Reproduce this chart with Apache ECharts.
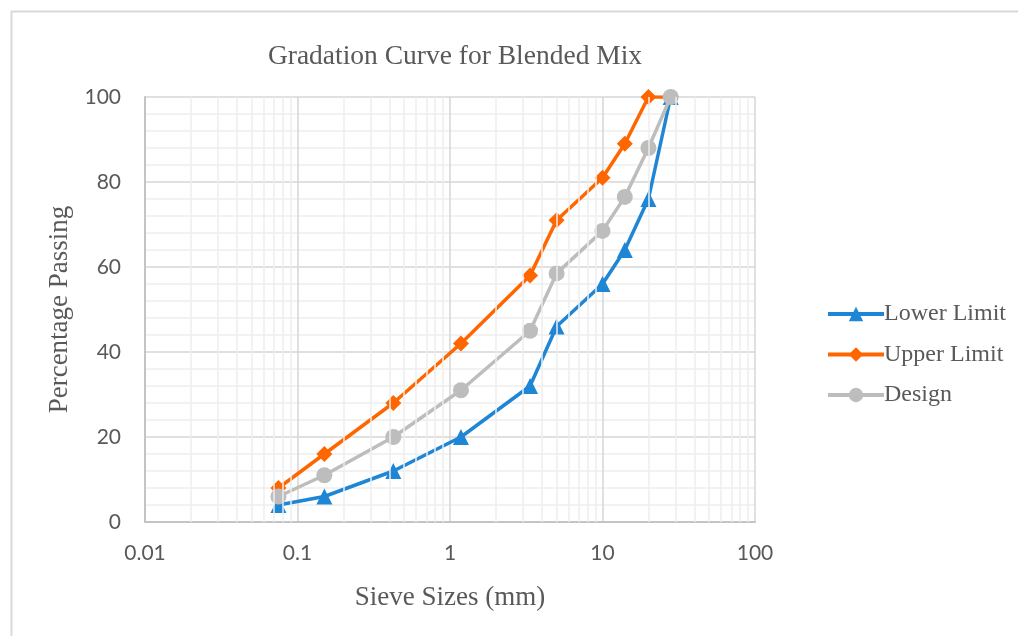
<!DOCTYPE html>
<html lang="en">
<head>
    <meta charset="UTF-8">
    <script src="https://cdn.jsdelivr.net/npm/echarts@6/dist/echarts.min.js"></script>
    <title>Gradation Curve</title>
    <style>body{margin:0;background:#fff;}</style>
</head>
<body>
    <div id="main" style="width: 1018px; height: 636px;"></div>
    <script>
        // sieve sizes (mm) and % passing
        var sieves = [0.075, 0.15, 0.425, 1.18, 3.35, 5, 10, 14, 20, 28];
        var lowerLimit = [4, 6, 12, 20, 32, 46, 56, 64, 76, 100];
        var upperLimit = [8, 16, 28, 42, 58, 71, 81, 89, 100, 100];
        var design = [6, 11, 20, 31, 45, 58.5, 68.5, 76.5, 88, 100];
        var yTicks = [0, 20, 40, 60, 80, 100];

        // minor vertical grid lines 2..9 per decade
        var minorX = [];
        [0.01, 0.1, 1, 10].forEach(function (d) {
            for (var k = 2; k <= 9; k++) minorX.push(+(d * k).toPrecision(3));
        });

        function pairs(vals) {
            return sieves.map(function (s, i) { return [s, vals[i]]; });
        }

        var serif = '"Liberation Serif", "DejaVu Serif", serif';
        var sans = 'Lato, "Open Sans", sans-serif';
        var txt = '#595959';

        var myChart = echarts.init(document.getElementById('main'));
        var option = {
            backgroundColor: '#fff',
            animation: false,
            graphic: [{
                type: 'rect',
                left: 9, top: 9,
                shape: { width: 1100, height: 700 },
                style: { fill: 'none', stroke: '#d9d9d9', lineWidth: 2 },
                silent: true
            }],
            title: {
                text: 'Gradation Curve for Blended Mix',
                left: 450, top: 38,
                textAlign: 'center',
                textStyle: { fontFamily: serif, fontSize: 27.5, fontWeight: 'normal', color: txt }
            },
            legend: {
                orient: 'vertical',
                left: 821, top: 297,
                itemWidth: 56, itemHeight: 18,
                itemGap: 16.5,
                lineStyle: { width: 4 },
                textStyle: { fontFamily: serif, fontSize: 24, color: txt, padding: [0, 0, 0, -5] },
                data: ['Lower Limit', 'Upper Limit', 'Design']
            },
            grid: { left: 145, right: 263, top: 97, bottom: 114 },
            xAxis: {
                type: 'log',
                logBase: 10,
                min: 0.01, max: 100,
                name: 'Sieve Sizes (mm)',
                nameLocation: 'middle',
                nameGap: 62,
                nameTextStyle: { fontFamily: serif, fontSize: 27, color: txt },
                axisLine: { lineStyle: { color: '#c4c4c4', width: 2 } },
                axisTick: { show: false },
                axisLabel: {
                    margin: 21, fontFamily: sans, fontSize: 21, color: txt,
                    formatter: function (v) { return String(+v.toPrecision(3)); }
                },
                splitLine: { show: true, lineStyle: { color: '#d6d6d6', width: 1.5 } }
            },
            yAxis: {
                type: 'value',
                min: 0, max: 100, interval: 20,
                name: 'Percentage Passing',
                nameLocation: 'middle',
                nameGap: 68,
                nameTextStyle: { fontFamily: serif, fontSize: 27, color: txt },
                axisLine: { show: true, lineStyle: { color: '#c4c4c4', width: 2 } },
                axisTick: { show: false },
                axisLabel: {
                    margin: 24, fontFamily: sans, fontSize: 21, color: txt,
                    formatter: function (v) { return yTicks.indexOf(v) >= 0 ? String(v) : ''; }
                },
                splitLine: { show: true, lineStyle: { color: '#d6d6d6', width: 1.5 } },
                minorTick: { show: false, splitNumber: 5 },
                minorSplitLine: { show: true, lineStyle: { color: '#eeeeee', width: 1.5 } }
            },
            series: [
                {
                    name: 'minor grid',
                    type: 'line',
                    data: [],
                    z: 1,
                    silent: true,
                    markLine: {
                        silent: true,
                        symbol: 'none',
                        label: { show: false },
                        lineStyle: { color: '#eeeeee', width: 1.5, type: 'solid' },
                        data: minorX.map(function (v) { return { xAxis: v }; })
                    }
                },
                {
                    name: 'Lower Limit',
                    type: 'line',
                    data: pairs(lowerLimit),
                    symbol: 'triangle', symbolSize: 16,
                    color: '#1f86d6',
                    lineStyle: { width: 3.5 },
                    z: 3
                },
                {
                    name: 'Upper Limit',
                    type: 'line',
                    data: pairs(upperLimit),
                    symbol: 'diamond', symbolSize: 16,
                    color: '#ff6600',
                    lineStyle: { width: 3.5 },
                    z: 3
                },
                {
                    name: 'Design',
                    type: 'line',
                    data: pairs(design),
                    symbol: 'circle', symbolSize: 16,
                    color: '#bdbdbd',
                    lineStyle: { width: 3.5 },
                    z: 4
                }
            ]
        };
        myChart.setOption(option);
    </script>
</body>
</html>
